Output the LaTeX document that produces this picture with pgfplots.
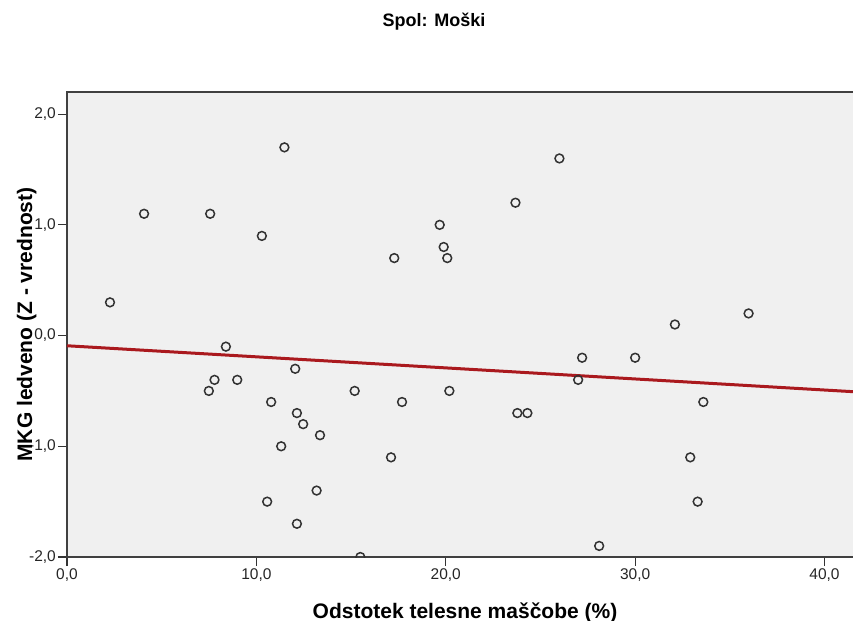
\documentclass[border=0pt]{standalone}
\usepackage{fontspec}
\setmainfont{Liberation Sans}
\usepackage{pgfplots}
\pgfplotsset{compat=1.18}
\definecolor{bgc}{RGB}{240,240,240}
\definecolor{fitc}{RGB}{170,25,30}
\definecolor{mk}{RGB}{50,50,50}
\begin{document}
\begin{tikzpicture}
\useasboundingbox (-67bp,-64bp) rectangle (786bp,557bp);
\begin{axis}[
  at={(0,0)}, anchor=south west,
  scale only axis,
  width=792bp, height=465bp,
  xmin=0, xmax=41.82, ymin=-2, ymax=2.2,
  xtick={0,10,20,30,40}, ytick={-2,-1,0,1,2},
  xtick pos=bottom, ytick pos=left,
  tick align=outside,
  major tick length=9bp,
  tick style={black!80, line width=1.1bp},
  axis line style={black!75, line width=1.1bp},
  axis background/.style={fill=bgc},
  /pgf/number format/assume math mode=true,
  /pgf/number format/use comma,
  /pgf/number format/fixed,
  /pgf/number format/fixed zerofill,
  /pgf/number format/precision=1,
  ticklabel style={font=\fontsize{15.5bp}{18bp}\selectfont, text=black!85, inner sep=2bp},
  clip mode=individual,
  clip marker paths=true,
]
\addplot[fitc, line width=3bp] coordinates {(0,-0.092) (41.82,-0.51)};
\addplot[only marks, mark=o, mark size=4.4bp, mark options={draw=mk, line width=1.5bp}] coordinates {
(2.27,0.30) (4.07,1.10) (7.56,1.10) (10.29,0.90) (11.48,1.70)
(8.39,-0.10) (7.79,-0.40) (7.49,-0.50) (8.99,-0.40) (10.78,-0.60)
(12.05,-0.30) (12.14,-0.70) (11.31,-1.00) (10.57,-1.50) (12.14,-1.70)
(12.47,-0.80) (13.36,-0.90) (13.18,-1.40) (15.49,-2.00) (15.19,-0.50)
(17.11,-1.10) (17.69,-0.60) (17.28,0.70) (19.68,1.00) (19.89,0.80)
(20.08,0.70) (20.19,-0.50) (23.68,1.20) (26.00,1.60) (23.78,-0.70)
(24.31,-0.70) (27.20,-0.20) (26.99,-0.40) (30.00,-0.20) (32.10,0.10)
(35.99,0.20) (33.60,-0.60) (32.91,-1.10) (33.30,-1.50) (28.10,-1.90)
};
\end{axis}
\node[anchor=base, font=\fontsize{18bp}{21bp}\selectfont\bfseries] at (367bp,530bp) {Spol: Moški};
\node[anchor=base, font=\fontsize{21bp}{24bp}\selectfont\bfseries] at (398bp,-61bp) {Odstotek telesne maščobe (\%)};
\node[anchor=base, rotate=90, font=\fontsize{21bp}{24bp}\selectfont\bfseries] at (-35bp,232.5bp) {MKG ledveno (Z - vrednost)};
\end{tikzpicture}
\end{document}
